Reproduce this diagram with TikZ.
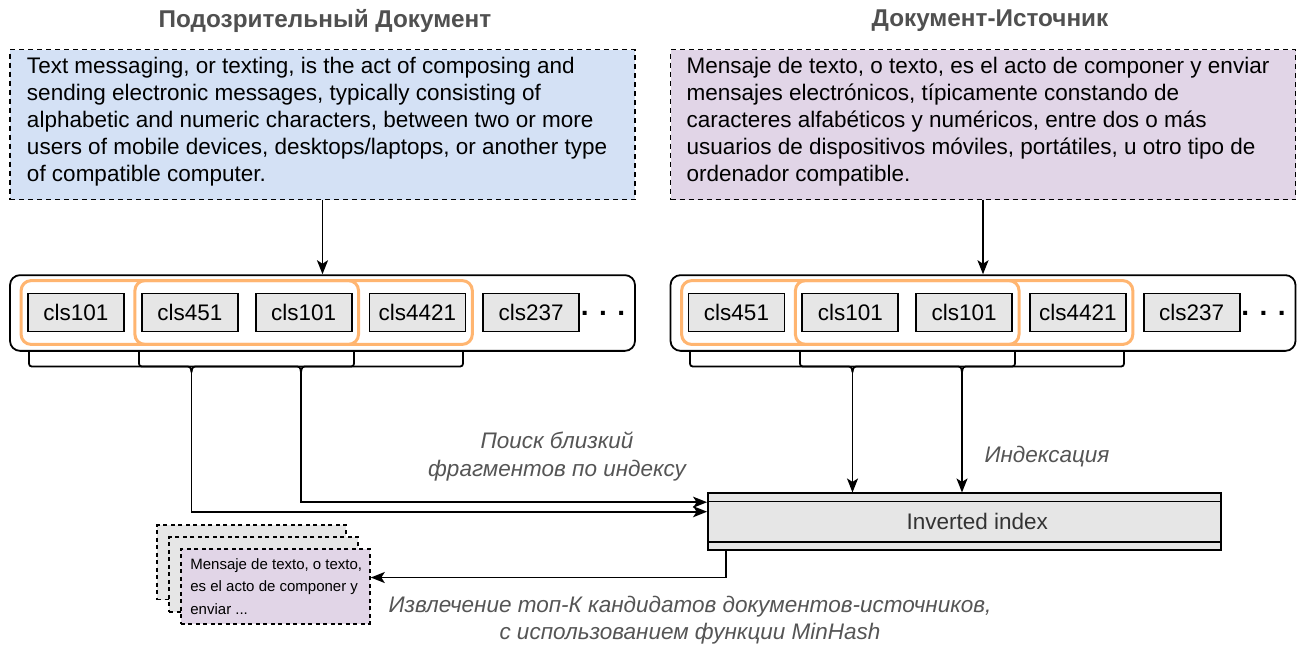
\documentclass[tikz,border=0pt]{standalone}
\usepackage{fontspec}
\setmainfont{Liberation Sans}
\usetikzlibrary{arrows.meta, positioning, fit}
\definecolor{suspblue}{HTML}{D4E1F5}
\definecolor{srcviolet}{HTML}{E1D5E7}
\definecolor{tokgray}{HTML}{E6E6E6}
\definecolor{shingle}{HTML}{FFB570}
\definecolor{capgray}{HTML}{505050}
\definecolor{notegray}{HTML}{555555}
\definecolor{idxgray}{HTML}{333333}
\newcommand{\fsz}[2]{\fontsize{#1}{#2}\selectfont}
% curly bracket under a shingle, tip coordinate #3
\newcommand{\curly}[3]{%
  \pgfmathsetmacro{\bmid}{(#1+#2)/2}%
  \draw[line join=round] (#1,351) -- (#1,360) .. controls (#1,366.5) .. (#1+6,366.5)
    -- (\bmid-7,366.5) .. controls (\bmid-1,366.5) .. (\bmid,372)
    .. controls (\bmid+1,366.5) .. (\bmid+7,366.5)
    -- (#2-6,366.5) .. controls (#2,366.5) .. (#2,360) -- (#2,351);
  \coordinate (#3) at (\bmid,372);}

\begin{document}
\begin{tikzpicture}[x=1pt, y=-1pt, line width=1.8pt,
    >={Stealth[length=14pt, width=11pt, inset=3.5pt]},
    title/.style={font=\fsz{24.3}{28}\bfseries, text=capgray},
    textbox/.style={draw, dash pattern=on 5pt off 4pt, minimum width=625pt, minimum height=150pt},
    bodytxt/.style={align=left, inner sep=0pt, font=\fsz{22.5}{27}},
    chainbox/.style={draw, rounded corners=10pt, minimum width=625pt, minimum height=75.7pt},
    tok/.style={draw, fill=tokgray, minimum width=96pt, minimum height=38pt, inner sep=0pt, font=\fsz{22.5}{27}},
    win/.style={draw=shingle, line width=3pt, rounded corners=10pt, inner xsep=6pt, inner ysep=12pt},
    note/.style={align=center, font=\fsz{22.5}{28}\itshape, text=notegray},
    sheet/.style={draw, dash pattern=on 4pt off 3.5pt, minimum width=189pt, minimum height=74.5pt}]
  \fill[white] (0,0) rectangle (1301,649);

  % documents
  \node[title] (tsusp) at (325,21) {Подозрительный Документ};
  \node[title] (tsrc) at (990,21) {Документ-Источник};
  \node[textbox, fill=suspblue] (susp) at (322.5,124.5) {};
  \node[bodytxt, anchor=west] (susptxt) at ([xshift=17pt,yshift=2.5pt]susp.west)
    {Text messaging, or texting, is the act of composing and\\
     sending electronic messages, typically consisting of\\
     alphabetic and numeric characters, between two or more\\
     users of mobile devices, desktops/laptops, or another type\\
     of compatible computer.};
  \node[textbox, fill=srcviolet] (src) at (983,124.5) {};
  \node[bodytxt, anchor=west] (srctxt) at ([xshift=16pt,yshift=2.5pt]src.west)
    {Mensaje de texto, o texto, es el acto de componer y enviar\\
     mensajes electrónicos, típicamente constando de\\
     caracteres alfabéticos y numéricos, entre dos o más\\
     usuarios de dispositivos móviles, portátiles, u otro tipo de\\
     ordenador compatible.};

  % token chains
  \node[chainbox] (chainL) at (322.5,313) {};
  \node[chainbox] (chainR) at (983,313) {};
  \foreach \t [count=\i from 0] in {cls101,cls451,cls101,cls4421,cls237}
    \node[tok] (l\i) at (76+113.8*\i,312.5) {\t};
  \foreach \t [count=\i from 0] in {cls451,cls101,cls101,cls4421,cls237}
    \node[tok] (r\i) at (736.5+113.8*\i,312.5) {\t};
  \node[font=\fsz{28}{28}\bfseries, inner sep=0pt] (ldots) at (603,313) {. . .};
  \node[font=\fsz{28}{28}\bfseries, inner sep=0pt] (rdots) at (1263.5,313) {. . .};

  % shingles
  \node[win, fit=(l0)(l2)] (lwin1) {};
  \node[win, fit=(l1)(l3)] (lwin2) {};
  \node[win, fit=(r0)(r2)] (rwin1) {};
  \node[win, fit=(r1)(r3)] (rwin2) {};
  \curly{29}{354}{lt1}
  \curly{139}{463}{lt2}
  \curly{690}{1015}{rt1}
  \curly{800}{1124}{rt2}

  % index
  \node[draw, fill=tokgray, minimum width=512.6pt, minimum height=56.7pt] (inv) at (964.3,521.7) {};
  \draw ([yshift=-9pt]inv.north west) -- ([yshift=-9pt]inv.north east);
  \draw ([yshift=9.3pt]inv.south west) -- ([yshift=9.3pt]inv.south east);
  \node[font=\fsz{22.5}{27}, text=idxgray] (invlbl) at ([xshift=13pt]inv.center) {Inverted index};

  % candidates
  \node[sheet, fill=tokgray] (docC) at (251.6,562.3) {};
  \node[sheet, fill=tokgray] (docB) at (263.8,574.5) {};
  \node[sheet, fill=srcviolet] (docA) at (275.4,586.5) {};
  \node[align=left, inner sep=0pt, font=\fsz{15}{22.5}, anchor=west] (docAtxt)
    at ([xshift=9.5pt]docA.west) {Mensaje de texto, o texto,\\ es el acto de componer y\\ enviar ...};

  % connectors
  \draw[->] (susp) -- (chainL);
  \draw[->] (src) -- (chainR);
  \draw[->] (lt1) |- ([yshift=10pt]inv.west);
  \draw[->] (lt2) |- ([yshift=19.5pt]inv.west);
  \draw[->] (rt1) -- (rt1 |- inv.north);
  \draw[->] (rt2) -- (rt2 |- inv.north);
  \draw[->] ([xshift=18.5pt]inv.south west) |- ([yshift=9pt]docA.east);

  % labels
  \node[note] (lblsearch) at (557,457) {Поиск близкий\\фрагментов по индексу};
  \node[note] (lblindex) at (1047,457) {Индексация};
  \node[note, font=\fsz{22.5}{27}\itshape] (lblextract) at (690,620)
    {Извлечение топ-К кандидатов документов-источников,\\с использованием функции MinHash};
\end{tikzpicture}
\end{document}
